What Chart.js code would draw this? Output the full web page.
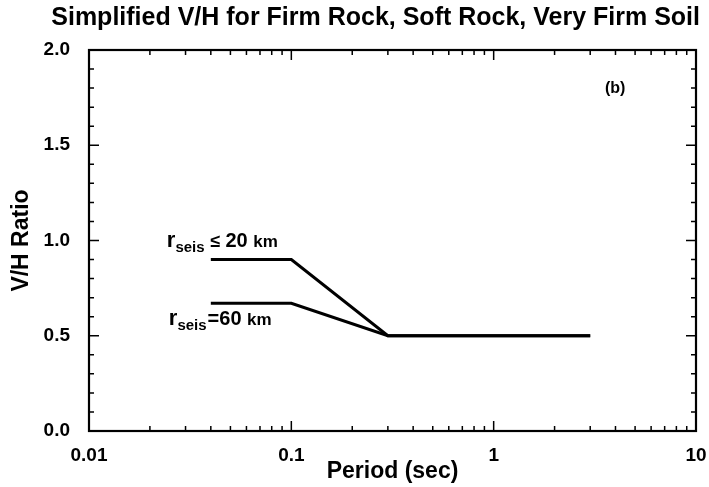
<!DOCTYPE html>
<html>
<head>
<meta charset="utf-8">
<script src="https://cdn.jsdelivr.net/npm/chart.js@4"></script>
<style>
  html, body { margin: 0; padding: 0; background: #fff; }
  #wrap { width: 709px; height: 487px; }
</style>
</head>
<body>
<div id="wrap"><canvas id="vhChart"></canvas></div>
<script>
// period (sec) breakpoints and V/H ratios
const periods = [0.04, 0.1, 0.3, 3];
const vhNear = [0.9, 0.9, 0.5, 0.5];   // r_seis <= 20 km
const vhFar = [0.67, 0.67, 0.5, 0.5];  // r_seis = 60 km

const xTickValues = [0.01, 0.1, 1, 10];
const xTickLabels = ['0.01', '0.1', '1', '10'];
const yTickValues = [0, 0.5, 1.0, 1.5, 2.0];

const FONT = "'Liberation Sans', Arial, Helvetica, sans-serif";

function toPoints(xs, ys) {
    return xs.map((x, i) => ({ x: x, y: ys[i] }));
}

// inward ticks on all four sides plus the box frame
const frameTicks = {
    id: 'frameTicks',
    afterDraw(chart) {
        const ctx = chart.ctx;
        const { left, right, top, bottom } = chart.chartArea;
        const x = chart.scales.x, y = chart.scales.y;
        ctx.save();
        ctx.strokeStyle = '#000';
        ctx.lineWidth = 1.5;
        // x: majors at decades, minors 2..9
        for (let d = 0.01; d < 10.5; d *= 10) {
            for (let m = 1; m <= 9; m++) {
                const v = d * m;
                if (v > 10.001) break;
                const px = x.getPixelForValue(v);
                const len = m === 1 ? 10 : 5;
                ctx.beginPath();
                ctx.moveTo(px, bottom); ctx.lineTo(px, bottom - len);
                ctx.moveTo(px, top); ctx.lineTo(px, top + len);
                ctx.stroke();
            }
        }
        // y: majors every 0.5, minors every 0.1
        for (let k = 0; k <= 20; k++) {
            const py = y.getPixelForValue(k / 10);
            const len = k % 5 === 0 ? 10 : 5;
            ctx.beginPath();
            ctx.moveTo(left, py); ctx.lineTo(left + len, py);
            ctx.moveTo(right, py); ctx.lineTo(right - len, py);
            ctx.stroke();
        }
        ctx.lineWidth = 2.2;
        ctx.strokeRect(left, top, right - left, bottom - top);
        ctx.restore();
    }
};

function drawRLabel(ctx, x0, base, rest) {
    ctx.font = 'bold 22px ' + FONT;
    ctx.fillText('r', x0, base);
    let cx = x0 + ctx.measureText('r').width;
    ctx.font = 'bold 15px ' + FONT;
    ctx.fillText('seis', cx, base + 5);
    cx += ctx.measureText('seis').width + 1;
    rest.forEach(part => {
        ctx.font = 'bold ' + part.size + 'px ' + FONT;
        ctx.fillText(part.text, cx, base);
        cx += ctx.measureText(part.text).width;
    });
}

const annotations = {
    id: 'annotations',
    afterDraw(chart) {
        const ctx = chart.ctx;
        const x = chart.scales.x, y = chart.scales.y;
        const { right, top } = chart.chartArea;
        ctx.save();
        ctx.fillStyle = '#000';
        ctx.textAlign = 'left';
        ctx.textBaseline = 'alphabetic';
        const ax = x.getPixelForValue(periods[0]);
        drawRLabel(ctx, ax - 44, y.getPixelForValue(vhNear[0]) - 13, [
            { text: ' \u2264 ', size: 18 },
            { text: '20 ', size: 20 },
            { text: 'km', size: 17 }
        ]);
        drawRLabel(ctx, ax - 42, y.getPixelForValue(vhFar[0]) + 22, [
            { text: '=60 ', size: 20 },
            { text: 'km', size: 17 }
        ]);
        ctx.font = 'bold 16px ' + FONT;
        ctx.fillText('(b)', right - 91, top + 43);
        ctx.restore();
    }
};

document.addEventListener('DOMContentLoaded', () => {
    const ctx = document.getElementById('vhChart').getContext('2d');
    new Chart(ctx, {
        type: 'line',
        data: {
            datasets: [{
                label: 'rseis <= 20 km',
                data: toPoints(periods, vhNear),
                borderColor: '#000',
                borderWidth: 3,
                pointRadius: 0,
                fill: false,
                tension: 0
            }, {
                label: 'rseis = 60 km',
                data: toPoints(periods, vhFar),
                borderColor: '#000',
                borderWidth: 3,
                pointRadius: 0,
                fill: false,
                tension: 0
            }]
        },
        options: {
            responsive: true,
            maintainAspectRatio: false,
            animation: false,
            layout: { padding: { left: 0, right: 9, top: 0, bottom: 0 } },
            plugins: {
                legend: { display: false },
                tooltip: { enabled: false },
                title: {
                    display: true,
                    text: 'Simplified V/H for Firm Rock, Soft Rock, Very Firm Soil',
                    color: '#000',
                    align: 'end',
                    font: { family: FONT, size: 25, weight: 'bold' },
                    padding: { top: 3, bottom: 17 }
                }
            },
            scales: {
                x: {
                    type: 'logarithmic',
                    min: 0.01,
                    max: 10,
                    grid: { display: false },
                    border: { display: false },
                    afterBuildTicks: s => { s.ticks = xTickValues.map(v => ({ value: v })); },
                    afterFit: s => { s.height = 56; s.paddingRight = 13; },
                    ticks: {
                        color: '#000',
                        padding: 5,
                        maxRotation: 0,
                        autoSkip: false,
                        font: { family: FONT, size: 19, weight: 'bold' },
                        callback: (v, i) => xTickLabels[i]
                    },
                    title: {
                        display: true,
                        text: 'Period (sec)',
                        color: '#000',
                        padding: { top: 0, bottom: 2 },
                        font: { family: FONT, size: 23, weight: 'bold' }
                    }
                },
                y: {
                    min: 0,
                    max: 2,
                    grid: { display: false },
                    border: { display: false },
                    afterBuildTicks: s => { s.ticks = yTickValues.map(v => ({ value: v })); },
                    afterFit: s => { s.width = 89; },
                    ticks: {
                        color: '#000',
                        padding: 11,
                        font: { family: FONT, size: 19, weight: 'bold' },
                        callback: v => v.toFixed(1)
                    },
                    title: {
                        display: true,
                        text: 'V/H Ratio',
                        color: '#000',
                        padding: { top: 8, bottom: 0 },
                        font: { family: FONT, size: 23, weight: 'bold' }
                    }
                }
            }
        },
        plugins: [frameTicks, annotations]
    });
});
</script>
</body>
</html>
